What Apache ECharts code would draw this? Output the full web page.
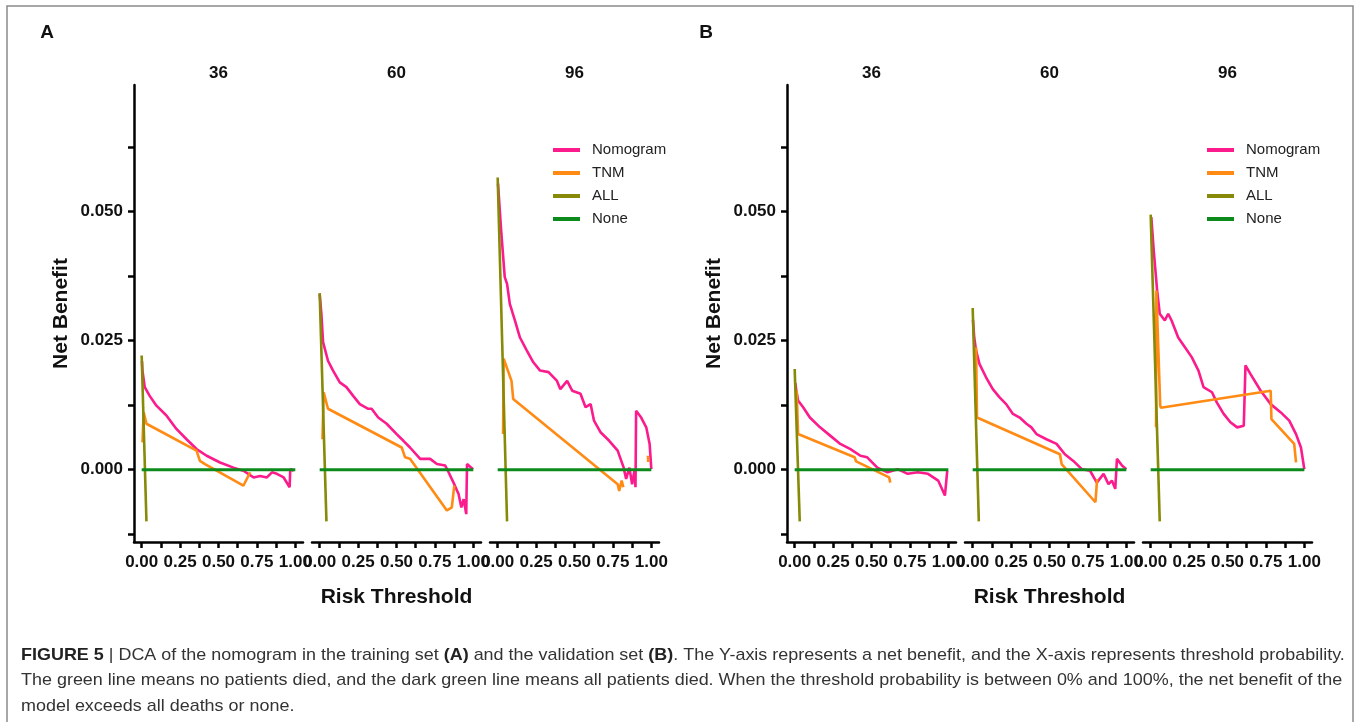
<!DOCTYPE html>
<html>
<head>
<meta charset="utf-8">
<title>DCA nomogram</title>
<script src="https://cdn.jsdelivr.net/npm/echarts@6/dist/echarts.min.js"></script>
<style>
  html, body { margin: 0; padding: 0; background: #fff; }
  #chart { width: 1357px; height: 722px; }
</style>
</head>
<body>
<div id="chart"></div>
<script>
// facets: months
const facets = ['36', '60', '96']
const legendNames = ['Nomogram', 'TNM', 'ALL', 'None']

// panel A (training set) -- [threshold, net benefit]
const nomA36 = [[0.002, 0.021], [0.005, 0.0192], [0.02, 0.016], [0.052, 0.0143], [0.096, 0.0124], [0.161, 0.0105], [0.226, 0.0079], [0.292, 0.0059], [0.357, 0.004], [0.423, 0.0027], [0.51, 0.0014], [0.597, 0.0004], [0.662, -0.0002], [0.728, -0.0015], [0.771, -0.0012], [0.815, -0.0015], [0.848, -0.0005], [0.88, -0.0008], [0.924, -0.0015], [0.963, -0.0034], [0.967, 0.0001], [0.989, -0.0002]]
const tnmA36 = [[0.005, 0.0053], [0.013, 0.0111], [0.031, 0.0089], [0.357, 0.0037], [0.379, 0.0017], [0.412, 0.0011], [0.662, -0.0031], [0.706, -0.0005]]
const allA36 = [[0, 0.0221], [0.031, -0.01]]

const nomA60 = [[0, 0.034], [0.011, 0.0302], [0.022, 0.0247], [0.054, 0.0211], [0.087, 0.0192], [0.131, 0.0169], [0.174, 0.016], [0.218, 0.0143], [0.261, 0.0127], [0.316, 0.0118], [0.338, 0.0118], [0.381, 0.0101], [0.436, 0.0089], [0.501, 0.0069], [0.545, 0.0056], [0.588, 0.0043], [0.654, 0.0021], [0.719, 0.0021], [0.763, 0.0011], [0.817, 0.0008], [0.839, -0.0005], [0.871, -0.0025], [0.904, -0.0047], [0.922, -0.0073], [0.937, -0.0057], [0.954, -0.0086], [0.959, 0.0011], [0.97, 0.0014], [0.998, 0.0001]]
const tnmA60 = [[0.018, 0.0059], [0.026, 0.015], [0.054, 0.0118], [0.534, 0.0043], [0.556, 0.0024], [0.588, 0.0021], [0.828, -0.0079], [0.86, -0.0073], [0.876, -0.0031]]
const allA60 = [[0, 0.0342], [0.044, -0.01]]

const nomA96 = [[0.002, 0.0554], [0.024, 0.0457], [0.046, 0.0373], [0.061, 0.036], [0.079, 0.0321], [0.112, 0.0289], [0.145, 0.0256], [0.189, 0.0231], [0.232, 0.0208], [0.276, 0.0192], [0.331, 0.0189], [0.386, 0.0172], [0.408, 0.0156], [0.452, 0.0172], [0.485, 0.0153], [0.539, 0.0147], [0.572, 0.0121], [0.605, 0.0127], [0.627, 0.0095], [0.671, 0.0072], [0.726, 0.0056], [0.781, 0.0037], [0.82, 0.0004], [0.836, -0.0018], [0.857, 0.0004], [0.875, -0.0028], [0.89, -0.0002], [0.897, -0.0034], [0.901, 0.0114], [0.934, 0.0101], [0.967, 0.0082], [0.989, 0.005], [1.0, 0.0001]]
const tnmA96 = [[0.035, 0.0069], [0.039, 0.0215], [0.09, 0.0172], [0.101, 0.0137], [0.781, -0.0028], [0.791, -0.0041], [0.807, -0.0021], [0.818, -0.0034]]
const tnmA96Tail = [[0.978, 0.0027], [0.98, 0.0015]]
const allA96 = [[0, 0.0566], [0.061, -0.01]]

// panel B (validation set)
const nomB36 = [[0.004, 0.0168], [0.011, 0.0153], [0.022, 0.0134], [0.055, 0.0121], [0.099, 0.0101], [0.165, 0.0082], [0.231, 0.0066], [0.297, 0.005], [0.363, 0.004], [0.428, 0.0027], [0.472, 0.0024], [0.538, 0.0004], [0.604, -0.0005], [0.67, 0.0001], [0.736, -0.0008], [0.802, -0.0005], [0.868, -0.0008], [0.934, -0.0021], [0.978, -0.005], [0.993, -0.0002]]
const tnmB36 = [[0.013, 0.0153], [0.022, 0.0069], [0.39, 0.0024], [0.4, 0.0016], [0.615, -0.0015], [0.622, -0.0025]]
const allB36 = [[0, 0.0195], [0.033, -0.01]]

const nomB60 = [[0.002, 0.029], [0.01, 0.0256], [0.022, 0.0231], [0.044, 0.0205], [0.087, 0.0179], [0.131, 0.0156], [0.175, 0.014], [0.218, 0.0127], [0.262, 0.0108], [0.306, 0.0101], [0.35, 0.0089], [0.382, 0.0082], [0.415, 0.0069], [0.48, 0.0059], [0.546, 0.005], [0.6, 0.003], [0.655, 0.0017], [0.71, 0.0001], [0.764, -0.0002], [0.808, -0.0025], [0.852, -0.0008], [0.884, -0.0028], [0.906, -0.0021], [0.928, -0.0037], [0.939, 0.0021], [0.972, 0.0008], [1.0, 0.0001]]
const tnmB60 = [[0.022, 0.0237], [0.028, 0.0101], [0.033, 0.0101], [0.568, 0.003], [0.579, 0.0011], [0.799, -0.0063], [0.81, -0.0018]]
const allB60 = [[0, 0.0313], [0.04, -0.01]]

const nomB96 = [[0.004, 0.0489], [0.02, 0.0424], [0.042, 0.0347], [0.059, 0.0302], [0.092, 0.0289], [0.114, 0.0302], [0.136, 0.0289], [0.179, 0.0256], [0.223, 0.0237], [0.267, 0.0218], [0.311, 0.0192], [0.344, 0.016], [0.399, 0.015], [0.431, 0.013], [0.475, 0.0108], [0.519, 0.0092], [0.563, 0.0082], [0.606, 0.0085], [0.617, 0.0202], [0.65, 0.0185], [0.716, 0.0153], [0.781, 0.0127], [0.847, 0.0111], [0.902, 0.0095], [0.946, 0.0069], [0.978, 0.0043], [1.0, 0.0001]]
const tnmB96 = [[0.035, 0.0082], [0.037, 0.0347], [0.062, 0.0125], [0.066, 0.012], [0.781, 0.0153], [0.786, 0.0098], [0.934, 0.005], [0.946, 0.0014]]
const allB96 = [[0, 0.0494], [0.059, -0.01]]

const noneLine = [[0, 0], [1, 0]]

// axis ticks / labels
const yTicks = [-0.0125, 0, 0.0125, 0.025, 0.0375, 0.05, 0.0625]
const yLabels = [0, 0.025, 0.05]
const xTicks = [0, 0.125, 0.25, 0.375, 0.5, 0.625, 0.75, 0.875, 1]
const xLabels = [0, 0.25, 0.5, 0.75, 1]

const facetData = [
  { nom: nomA36, tnm: [tnmA36], all: allA36 },
  { nom: nomA60, tnm: [tnmA60], all: allA60 },
  { nom: nomA96, tnm: [tnmA96, tnmA96Tail], all: allA96 },
  { nom: nomB36, tnm: [tnmB36], all: allB36 },
  { nom: nomB60, tnm: [tnmB60], all: allB60 },
  { nom: nomB96, tnm: [tnmB96], all: allB96 },
]

const colors = {
  Nomogram: '#fb1b8c',
  TNM: '#ff8a14',
  ALL: '#878a06',
  None: '#0c8a1c',
}

const FONT = '"Liberation Sans", Arial, Helvetica, sans-serif'

// axis text in the figure is a condensed bold face; use the narrow cut if it is installed
function fontInstalled(name) {
  const ctx = document.createElement('canvas').getContext('2d')
  ctx.font = 'bold 20px monospace'
  const base = ctx.measureText('0.050 Risk Threshold').width
  ctx.font = 'bold 20px "' + name + '", monospace'
  return ctx.measureText('0.050 Risk Threshold').width !== base
}
const narrow = fontInstalled('Liberation Sans Narrow')
const AXFONT = narrow ? '"Liberation Sans Narrow", "Liberation Sans", sans-serif' : FONT
const tickSize = narrow ? 19 : 17
const nameSize = narrow ? 23 : 21
const stripSize = narrow ? 19 : 17

const panelLeft = [134, 787]
const facetStep = 178
const gridW = 169
const gridTop = 85
const gridH = 457

const grids = []
const xAxes = []
const yAxes = []
const series = []
const texts = []

facetData.forEach((d, i) => {
  const p = Math.floor(i / 3)
  const f = i % 3
  const left = panelLeft[p] + f * facetStep
  grids.push({ left: left, top: gridTop, width: gridW, height: gridH })

  xAxes.push({
    type: 'value',
    gridIndex: i,
    min: -0.05,
    max: 1.05,
    name: f === 1 ? 'Risk Threshold' : '',
    nameLocation: 'middle',
    nameGap: 45,
    nameTextStyle: { fontFamily: AXFONT, fontSize: nameSize, fontWeight: 'bold', color: '#111' },
    splitLine: { show: false },
    axisLine: { onZero: false, lineStyle: { color: '#000', width: 2.5 } },
    axisTick: { customValues: xTicks, length: 6, lineStyle: { color: '#000', width: 2.5 } },
    axisLabel: {
      customValues: xLabels,
      formatter: v => v.toFixed(2),
      fontFamily: AXFONT,
      fontSize: tickSize,
      fontWeight: 'bold',
      color: '#111',
      margin: 12,
    },
  })

  yAxes.push({
    type: 'value',
    gridIndex: i,
    min: -0.014,
    max: 0.0745,
    show: f === 0,
    name: 'Net Benefit',
    nameLocation: 'middle',
    nameRotate: 90,
    nameGap: 62,
    nameTextStyle: { fontFamily: AXFONT, fontSize: nameSize, fontWeight: 'bold', color: '#111' },
    splitLine: { show: false },
    axisLine: { show: true, onZero: false, lineStyle: { color: '#000', width: 2.5 } },
    axisTick: { customValues: yTicks, length: 6, lineStyle: { color: '#000', width: 2.5 } },
    axisLabel: {
      customValues: yLabels,
      formatter: v => v.toFixed(3),
      fontFamily: AXFONT,
      fontSize: tickSize,
      fontWeight: 'bold',
      color: '#111',
      margin: 11,
    },
  })

  const line = (name, data, width) => ({
    name: name,
    type: 'line',
    xAxisIndex: i,
    yAxisIndex: i,
    data: data,
    showSymbol: false,
    symbol: 'none',
    clip: false,
    lineStyle: { color: colors[name], width: width },
    itemStyle: { color: colors[name] },
    silent: true,
  })
  series.push(line('Nomogram', d.nom, 2.6))
  d.tnm.forEach(t => series.push(line('TNM', t, 2.6)))
  series.push(line('ALL', d.all, 2.6))
  series.push(line('None', noneLine, 3))

  // facet strip title
  texts.push({
    type: 'text',
    x: left + gridW / 2,
    y: 73,
    style: { text: facets[f], fontFamily: AXFONT, fontSize: stripSize, fontWeight: 'bold', fill: '#111', align: 'center', verticalAlign: 'middle' },
  })
})

// panel letters
texts.push({ type: 'text', x: 47, y: 33, style: { text: 'A', fontFamily: FONT, fontSize: 19, fontWeight: 'bold', fill: '#111', align: 'center', verticalAlign: 'middle' } })
texts.push({ type: 'text', x: 706, y: 33, style: { text: 'B', fontFamily: FONT, fontSize: 19, fontWeight: 'bold', fill: '#111', align: 'center', verticalAlign: 'middle' } })

// caption
const captionLines = [
  '{b|FIGURE 5} | DCA of the nomogram in the training set {b|(A)} and the validation set {b|(B)}. The Y-axis represents a net benefit, and the X-axis represents threshold probability.',
  'The green line means no patients died, and the dark green line means all patients died. When the threshold probability is between 0% and 100%, the net benefit of the',
  'model exceeds all deaths or none.',
]
const captionSize = 17
captionLines.forEach((s, k) => {
  texts.push({
    type: 'text',
    x: 21,
    y: 655 + k * 25.5,
    scaleX: 1.056,
    style: {
      text: s,
      fontFamily: FONT,
      fontSize: captionSize,
      fill: '#333',
      verticalAlign: 'middle',
      rich: { b: { fontFamily: FONT, fontSize: captionSize, fontWeight: 'bold', fill: '#222' } },
    },
  })
})

// figure frame
texts.push({
  type: 'rect',
  shape: { x: 7, y: 6, width: 1346, height: 760 },
  style: { fill: 'none', stroke: '#8a8a8a', lineWidth: 1.5 },
  z: -1,
})

const legendCommon = {
  orient: 'vertical',
  top: 142,
  padding: 0,
  icon: 'rect',
  itemWidth: 27,
  itemHeight: 4,
  itemGap: 7,
  selectedMode: false,
  data: legendNames,
  textStyle: { fontFamily: FONT, fontSize: 15, color: '#222', lineHeight: 16, padding: [0, 0, 0, 7] },
}

const chart = echarts.init(document.getElementById('chart'), null, { renderer: 'canvas' })
chart.setOption({
  animation: false,
  backgroundColor: '#fff',
  legend: [
    Object.assign({ left: 553 }, legendCommon),
    Object.assign({ left: 1207 }, legendCommon),
  ],
  grid: grids,
  xAxis: xAxes,
  yAxis: yAxes,
  series: series,
  graphic: { elements: texts },
})
</script>
</body>
</html>
